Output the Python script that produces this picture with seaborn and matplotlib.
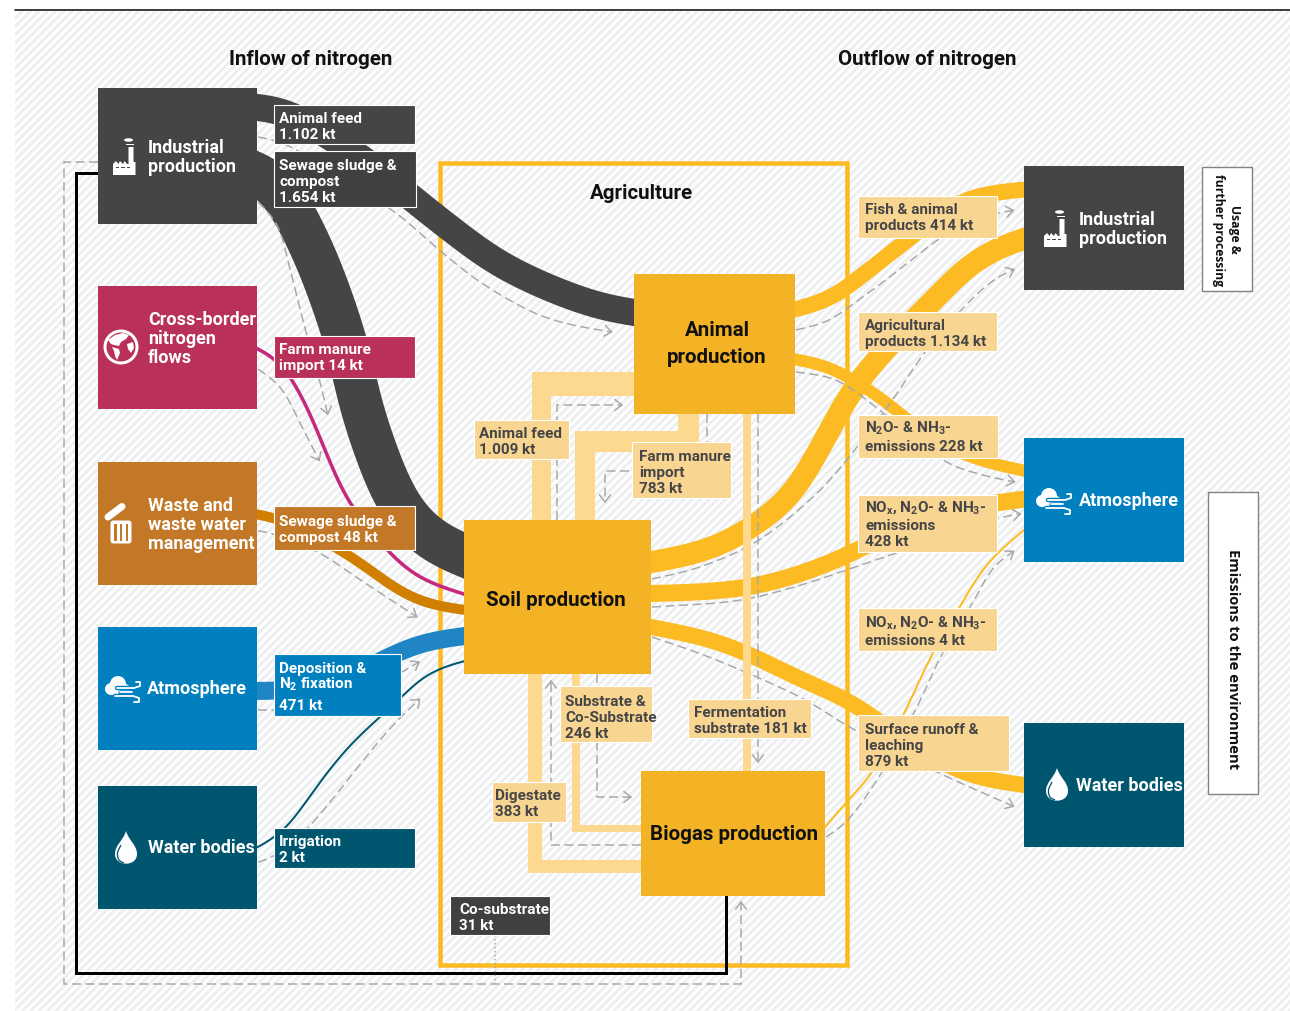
import numpy as np
import matplotlib
matplotlib.use("Agg")
import matplotlib.pyplot as plt
import seaborn as sns
from matplotlib.path import Path
from matplotlib.patches import PathPatch, Rectangle, Circle, Ellipse, Polygon, FancyBboxPatch

#-----------------------------------------------------------------
# Chart values (kt of nitrogen)
#-----------------------------------------------------------------
inflow_names = ["Animal feed", "Sewage sludge & compost", "Farm manure import",
                "Sewage sludge & compost", "Deposition & N2 fixation", "Irrigation"]
inflow_values = [1102, 1654, 14, 48, 471, 2]
internal_names = ["Animal feed", "Farm manure import", "Substrate & Co-Substrate",
                  "Digestate", "Fermentation substrate", "Co-substrate"]
internal_values = [1009, 783, 246, 383, 181, 31]
outflow_names = ["Fish & animal products", "Agricultural products", "N2O- & NH3-emissions",
                 "NOx, N2O- & NH3-emissions", "NOx, N2O- & NH3-emissions", "Surface runoff & leaching"]
outflow_values = [414, 1134, 228, 428, 4, 879]

#-----------------------------------------------------------------
# Colours and fonts
#-----------------------------------------------------------------
DARK, RED, BROWN, BLUE, TEAL = "#454547", "#b93059", "#c37827", "#0080bf", "#00566f"
CORE, FLOW, PALE, TAG = "#f3b325", "#fcbb22", "#fdd98f", "#f8d591"
DASH = "#a6a8aa"

sns.set_theme(style="white")
plt.rcParams["font.family"] = ["Roboto", "DejaVu Sans"]
plt.rcParams["font.weight"] = "bold"
plt.rcParams["mathtext.default"] = "regular"
plt.rcParams["hatch.linewidth"] = 2.1
plt.rcParams["hatch.color"] = "#edeff0"

PX = 0.72  # one pixel in points at dpi 100

#-----------------------------------------------------------------
# Layout, in pixels of the 1290x1012 picture
#-----------------------------------------------------------------
source_boxes = [(98, 89, 257, 225, DARK), (98, 287, 257, 410, RED), (98, 463, 257, 586, BROWN),
                (98, 628, 257, 751, BLUE), (98, 787, 257, 910, TEAL),
                (1024, 167, 1184, 291, DARK), (1024, 439, 1184, 563, BLUE), (1024, 724, 1184, 848, TEAL)]
core_boxes = [(634, 275, 795, 415), (464, 521, 651, 675), (641, 772, 825, 897)]

# band: colour, width in px, waypoints
bands = [
    (DARK, 27, [(240, 107), (288, 114), (360, 158), (438, 220), (505, 268), (589, 304), (650, 316)]),
    (DARK, 43, [(240, 168), (275, 185), (312, 250), (344, 337), (365, 420), (396, 500), (430, 540), (480, 563)]),
    ("#c5287c", 3.5, [(240, 342), (274, 357), (292, 380), (311, 417), (347, 500), (389, 553), (421, 580), (480, 600)]),
    ("#d17f00", 10, [(240, 513), (280, 520), (349, 556), (379, 578), (421, 603), (480, 613)]),
    ("#1f85c4", 18, [(240, 692), (300, 690), (360, 672), (400, 652), (430, 642), (480, 635)]),
    (TEAL, 2, [(240, 857), (274, 840), (288, 828), (320, 783), (349, 747), (381, 717), (402, 698), (429, 673), (480, 658)]),
    (FLOW, 16, [(780, 314), (830, 300), (870, 270), (910, 239), (955, 205), (985, 195), (1040, 189)]),
    (FLOW, 22, [(630, 567), (700, 553), (744, 533), (790, 497), (825, 440), (853, 390), (895, 340),
                (930, 305), (967, 268), (1000, 248), (1040, 235)]),
    (FLOW, 12, [(780, 358), (825, 366), (855, 382), (885, 402), (930, 438), (975, 460), (1040, 475)]),
    (FLOW, 17, [(630, 595), (700, 593), (750, 588), (800, 575), (850, 555), (900, 530), (960, 510), (1040, 498)]),
    (FLOW, 16, [(630, 624), (700, 638), (744, 653), (800, 680), (849, 702), (890, 730), (950, 768), (990, 781), (1040, 788)]),
    (FLOW, 2, [(815, 840), (849, 800), (872, 775), (904, 715), (933, 653), (960, 608), (988, 563), (1040, 518)]),
]

# straight elbows between the agriculture boxes
elbows = [
    [(532, 522), (532, 373), (635, 373), (635, 397), (551, 397), (551, 522)],
    [(677.5, 414), (699, 414), (699, 453), (595, 453), (595, 522), (574.5, 522), (574.5, 432), (677.5, 432)],
    [(572, 674), (580, 674), (580, 826), (642, 826), (642, 833), (572, 833)],
    [(528, 674), (542, 674), (542, 861), (642, 861), (642, 874), (528, 874)],
    [(743, 414), (751, 414), (751, 773), (743, 773)],
]

# dashed arrows: True means curved through the points
arrows = [
    (True, [(258, 138), (295, 150), (389, 209), (438, 250), (480, 283), (530, 312), (568, 325), (612, 333)]),
    (True, [(258, 203), (278, 227), (290, 270), (307, 337), (320, 383), (328, 417)]),
    (True, [(258, 370), (282, 390), (303, 430), (320, 463)]),
    (True, [(258, 532), (274, 535), (318, 553), (362, 582), (417, 618)]),
    (False, [(258, 711), (290, 711), (404, 672), (419, 663)]),
    (True, [(258, 863), (274, 857), (309, 828), (375, 747), (402, 717), (421, 699)]),
    (False, [(557, 521), (557, 406), (622, 406)]),
    (False, [(707, 415), (707, 472), (605, 472), (605, 503)]),
    (False, [(758, 415), (758, 763)]),
    (False, [(597, 675), (597, 798), (631, 798)]),
    (False, [(641, 846), (551, 846), (551, 682)]),
    (True, [(796, 331), (828, 322), (853, 305), (891, 277), (939, 240), (975, 220), (1015, 211)]),
    (True, [(652, 580), (700, 568), (756, 543), (811, 500), (845, 463), (891, 403), (925, 353), (962, 310), (992, 282), (1015, 270)]),
    (True, [(796, 373), (828, 378), (849, 388), (882, 413), (941, 460), (979, 475), (1015, 483)]),
    (True, [(652, 608), (735, 602), (798, 587), (849, 570), (899, 553), (996, 520), (1021, 515)]),
    (True, [(826, 838), (849, 820), (882, 773), (916, 710), (943, 653), (971, 607), (992, 570), (1014, 552)]),
    (True, [(652, 638), (714, 660), (798, 697), (853, 730), (937, 773), (1015, 808)]),
    (False, [(98, 163), (63.5, 163), (63.5, 985), (741, 985), (741, 903)]),
]

# tag: box, colour, text colour, text x, lines, baselines
tags = [
    ((274, 106, 415, 145), DARK, "white", 279, ["Animal feed", "1.102 kt"], [123, 139]),
    ((274, 152, 416, 208), "#3f403f", "white", 279, ["Sewage sludge &", "compost", "1.654 kt"], [170, 186, 202]),
    ((274, 337, 415, 379), RED, "white", 279, ["Farm manure", "import 14 kt"], [354, 370]),
    ((274, 507, 415, 551), BROWN, "white", 279, ["Sewage sludge &", "compost 48 kt"], [526, 542]),
    ((274, 655, 401, 717), BLUE, "white", 279, ["Deposition &", "N$_2$ fixation", "471 kt"], [673, 689, 710]),
    ((274, 829, 415, 869), TEAL, "white", 279, ["Irrigation", "2 kt"], [846, 862]),
    ((450, 897, 550, 936), "#3f403f", "white", 459, ["Co-substrate", "31 kt"], [914, 930]),
    ((474, 421, 569, 460), TAG, DARK, 479, ["Animal feed", "1.009 kt"], [438, 454]),
    ((632, 443, 731, 499), TAG, DARK, 639, ["Farm manure", "import", "783 kt"], [461, 477, 493]),
    ((560, 687, 652, 743), TAG, DARK, 565, ["Substrate &", "Co-Substrate", "246 kt"], [706, 722, 738]),
    ((492, 783, 566, 823), TAG, DARK, 495, ["Digestate", "383 kt"], [800, 816]),
    ((688, 700, 811, 739), TAG, DARK, 694, ["Fermentation", "substrate 181 kt"], [717, 733]),
    ((858, 197, 997, 239), TAG, DARK, 865, ["Fish & animal", "products 414 kt"], [214, 230]),
    ((858, 313, 997, 352), TAG, DARK, 865, ["Agricultural", "products 1.134 kt"], [330, 346]),
    ((858, 416, 998, 459), TAG, DARK, 865, ["N$_2$O- & NH$_3$-", "emissions 228 kt"], [433, 451]),
    ((858, 496, 997, 553), TAG, DARK, 865, ["NO$_x$, N$_2$O- & NH$_3$-", "emissions", "428 kt"], [512, 530, 546]),
    ((858, 609, 997, 652), TAG, DARK, 865, ["NO$_x$, N$_2$O- & NH$_3$-", "emissions 4 kt"], [627, 645]),
    ((858, 716, 1009, 772), TAG, DARK, 865, ["Surface runoff &", "leaching", "879 kt"], [734, 750, 766]),
]

node_texts = [
    (148, 153, ["Industrial", "production"]),
    (148, 325, ["Cross-border", "nitrogen", "flows"]),
    (148, 511, ["Waste and", "waste water", "management"]),
    (147, 694, ["Atmosphere"]),
    (148, 853, ["Water bodies"]),
    (1079, 225, ["Industrial", "production"]),
    (1079, 506, ["Atmosphere"]),
    (1076, 791, ["Water bodies"]),
]
core_texts = [(717, 336, "Animal"), (717, 363, "production"), (556, 606, "Soil production"), (734, 840, "Biogas production")]
titles = [(311, 65, "Inflow of nitrogen"), (927, 65, "Outflow of nitrogen"), (641, 199, "Agriculture")]


#-----------------------------------------------------------------
# Helpers
#-----------------------------------------------------------------
def smooth_path(points, sigma=0):
    """Catmull-Rom curve through the points, evened out with a gaussian of sigma px"""
    pts = np.array(points, dtype=float)
    ext = np.vstack([pts[0], pts, pts[-1]])
    t = np.linspace(0, 1, 25)[:, None]
    dense = [pts[:1]]
    for i in range(1, len(ext) - 2):
        p0, p1, p2, p3 = ext[i - 1], ext[i], ext[i + 1], ext[i + 2]
        seg = 0.5 * (2 * p1 + (p2 - p0) * t + (2 * p0 - 5 * p1 + 4 * p2 - p3) * t ** 2
                     + (3 * p1 - p0 - 3 * p2 + p3) * t ** 3)
        dense.append(seg[1:])
    dense = np.vstack(dense)
    if sigma == 0:
        return Path(dense)

    # even spacing of 2 px, straight run-out at both ends, then blur
    steps = np.hypot(*np.diff(dense, axis=0).T)
    dist = np.concatenate([[0], np.cumsum(steps)])
    even = np.arange(0, dist[-1], 2.0)
    line = np.column_stack([np.interp(even, dist, dense[:, 0]), np.interp(even, dist, dense[:, 1])])
    pad = int(3 * sigma / 2)
    head = line[0] + (line[0] - line[min(8, len(line) - 1)]) / 16 * 2 * np.arange(pad, 0, -1)[:, None]
    tail = line[-1] + (line[-1] - line[max(-9, -len(line))]) / 16 * 2 * np.arange(1, pad + 1)[:, None]
    full = np.vstack([head, line, tail])
    kernel = np.exp(-0.5 * (np.arange(-pad, pad + 1) * 2.0 / sigma) ** 2)
    kernel /= kernel.sum()
    out = np.column_stack([np.convolve(full[:, k], kernel, mode="same") for k in (0, 1)])
    return Path(out[pad:-pad])


def draw_arrow(ax, curved, points):
    path = smooth_path(points, sigma=8) if curved else Path(points)
    ax.add_patch(PathPatch(path, fill=False, ec=DASH, lw=1.5 * PX, ls=(0, (6, 3)), zorder=4))
    end = path.vertices[-1]
    back = path.vertices[-4] - end if curved else np.array(points[-2], dtype=float) - end
    ang = np.arctan2(back[1], back[0])
    for da in (-0.65, 0.65):
        tip = end + 9 * np.array([np.cos(ang + da), np.sin(ang + da)])
        ax.plot([tip[0], end[0]], [tip[1], end[1]], color=DASH, lw=1.5 * PX, zorder=4, solid_capstyle="round")


def draw_factory(ax, x, y, bg):
    body = [(0, 35), (0, 24), (3, 21), (5.5, 24), (7, 21), (10, 24), (11.5, 21), (14, 24), (15.5, 24),
            (15.5, 7), (20.5, 7), (20.5, 22), (22.5, 22), (22.5, 35)]
    ax.add_patch(Polygon([(x + a, y + b) for a, b in body], fc="white", ec="none", zorder=8))
    ax.add_patch(Ellipse((x + 15.5, y), 9, 3.5, fc="white", ec="none", zorder=8))
    ax.add_patch(Rectangle((x + 13, y + 4), 7.5, 1.3, fc="white", ec="none", zorder=8))
    for dx in (2.5, 8, 13.5):
        ax.add_patch(Rectangle((x + dx, y + 27), 3.5, 1.2, fc=bg, ec="none", zorder=9))


def draw_globe(ax, cx, cy, bg):
    ax.add_patch(Circle((cx, cy), 16, fc=bg, ec="white", lw=3 * PX, zorder=8))
    lands = [[(-13, -7), (-6, -12), (2, -14), (8, -12), (5, -8), (0, -5), (-2, -1), (-7, -2), (-10, -3)],
             [(-9, 0), (-2, 2), (-1, 6), (-4, 13), (-6, 9), (-7, 4)],
             [(6, -3), (12, -5), (13, 1), (10, 6), (7, 2)]]
    for land in lands:
        ax.add_patch(Polygon([(cx + a, cy + b) for a, b in land], fc="white", ec="none", zorder=9))


def draw_bin(ax, bg):
    ax.add_patch(FancyBboxPatch((111, 522), 20, 22, boxstyle="round,pad=0,rounding_size=2.5",
                                fc="white", ec="white", lw=1.0 * PX, zorder=8))
    for sx in (114, 119.8, 125.5):
        ax.add_patch(Rectangle((sx, 524.5), 2.6, 17, fc=bg, ec="none", zorder=9))
    ax.plot([108, 122], [518, 507.5], color="white", lw=7 * PX, solid_capstyle="round", zorder=8)


def draw_cloud(ax, dx, dy, bg):
    for cx, cy, r in [(111, 690, 6), (118, 685, 8), (125, 690, 5)]:
        ax.add_patch(Circle((cx + dx, cy + dy), r, fc="white", ec="none", zorder=8))
    ax.add_patch(Rectangle((111 + dx, 688 + dy), 14, 8, fc="white", ec="none", zorder=8))
    lines = [[(117, 689), (134, 689), (140, 687), (140, 683), (136, 683)],
             [(120, 693), (132, 693)],
             [(115, 697), (133, 697), (139, 699), (139, 703), (134, 703)]]
    for line in lines:
        xs, ys = zip(*[(a + dx, b + dy) for a, b in line])
        ax.plot(xs, ys, color=bg, lw=4.5 * PX, zorder=9, solid_capstyle="round")
        ax.plot(xs, ys, color="white", lw=1.8 * PX, zorder=10, solid_capstyle="round")


def draw_drop(ax, dx, dy, bg):
    cx, top = 126 + dx, 832 + dy
    outer = Path([(cx, top), (cx - 3, top + 10), (cx - 11, top + 14), (cx - 11, top + 23),
                  (cx - 11, top + 36), (cx + 11, top + 36), (cx + 11, top + 23),
                  (cx + 11, top + 14), (cx + 3, top + 10), (cx, top)],
                 [Path.MOVETO] + [Path.CURVE4] * 9)
    ax.add_patch(PathPatch(outer, fc="white", ec="none", zorder=8))
    inner = smooth_path([(cx - 5, top + 14), (cx - 8.5, top + 22), (cx - 7, top + 29), (cx - 2, top + 32)])
    ax.add_patch(PathPatch(inner, fill=False, ec=bg, lw=1.3 * PX, zorder=9))


#-----------------------------------------------------------------
# Drawing
#-----------------------------------------------------------------
def main():
    fig = plt.figure(figsize=(12.9, 10.12), dpi=100, facecolor="white")
    ax = fig.add_axes([0, 0, 1, 1])
    ax.set_xlim(0, 1290)
    ax.set_ylim(1012, 0)
    ax.axis("off")

    ax.add_patch(Rectangle((15, 12), 1275, 1000, fc="white", ec="#edeff0", lw=0, hatch="////", zorder=0))
    ax.plot([15, 1290], [11, 11], color="#111111", lw=1.6 * PX, zorder=1)

    # agriculture frame, feedback line
    ax.add_patch(Rectangle((439.5, 163.5), 407.5, 802.5, fill=False, ec=FLOW, lw=4.5 * PX, zorder=2))
    ax.plot([98, 75.5, 75.5, 726, 726], [174, 174, 974, 974, 897], color="black", lw=3 * PX, zorder=3,
            solid_joinstyle="miter")
    ax.plot([494.5, 494.5], [936, 985], color=DASH, lw=1.5 * PX, ls=":", zorder=4)

    for color, width, points in bands:
        ax.add_patch(PathPatch(smooth_path(points, sigma=18), fill=False, ec=color, lw=width * PX,
                               capstyle="butt", zorder=3))
    for curved, points in arrows:
        draw_arrow(ax, curved, points)
    for corners in elbows:
        ax.add_patch(Polygon(corners, fc=PALE, ec="none", zorder=5))

    for x0, y0, x1, y1, color in source_boxes:
        ax.add_patch(Rectangle((x0, y0), x1 - x0, y1 - y0, fc=color, ec="none", zorder=7))
    for x0, y0, x1, y1 in core_boxes:
        ax.add_patch(Rectangle((x0, y0), x1 - x0, y1 - y0, fc=CORE, ec="none", zorder=7))

    for (x0, y0, x1, y1), color, text_color, tx, lines, bases in tags:
        ax.add_patch(Rectangle((x0, y0), x1 - x0, y1 - y0, fc=color, ec="white", lw=0.8, zorder=6))
        for line, base in zip(lines, bases):
            ax.text(tx, base, line, color=text_color, fontsize=11, va="baseline", ha="left", zorder=7)

    for x, base, lines in node_texts:
        for i, line in enumerate(lines):
            ax.text(x, base + i * 19, line, color="white", fontsize=13, va="baseline", ha="left", zorder=9)
    for x, base, line in core_texts:
        ax.text(x, base, line, color="#111111", fontsize=14.8, va="baseline", ha="center", zorder=9)
    for x, base, line in titles:
        ax.text(x, base, line, color="#111111", fontsize=14.8, va="baseline", ha="center", zorder=9)

    # side boxes with rotated captions
    ax.add_patch(Rectangle((1202, 168), 50, 124, fc="white", ec="#808284", lw=1.0, zorder=6))
    ax.add_patch(Rectangle((1208, 493), 50, 302, fc="white", ec="#808284", lw=1.0, zorder=6))
    side = {"family": ["Open Sans", "DejaVu Sans"], "rotation": -90, "ha": "center", "va": "center",
            "color": "#111111", "zorder": 7}
    ax.text(1235, 229, "Usage &", fontsize=8.7, **side)
    ax.text(1219, 230, "further processing", fontsize=8.7, **side)
    ax.text(1233, 659, "Emissions to the environment", fontsize=10.6, **side)

    # icons
    draw_factory(ax, 113, 141, DARK)
    draw_factory(ax, 1044, 213, DARK)
    draw_globe(ax, 121, 348, RED)
    draw_bin(ax, BROWN)
    draw_cloud(ax, 0, 0, BLUE)
    draw_cloud(ax, 931, -188, BLUE)
    draw_drop(ax, 0, 0, TEAL)
    draw_drop(ax, 931, -63, TEAL)

    sns.despine(ax=ax, left=True, bottom=True)
    fig.savefig("out.png", dpi=100, facecolor="white")


if __name__ == "__main__":
    main()
